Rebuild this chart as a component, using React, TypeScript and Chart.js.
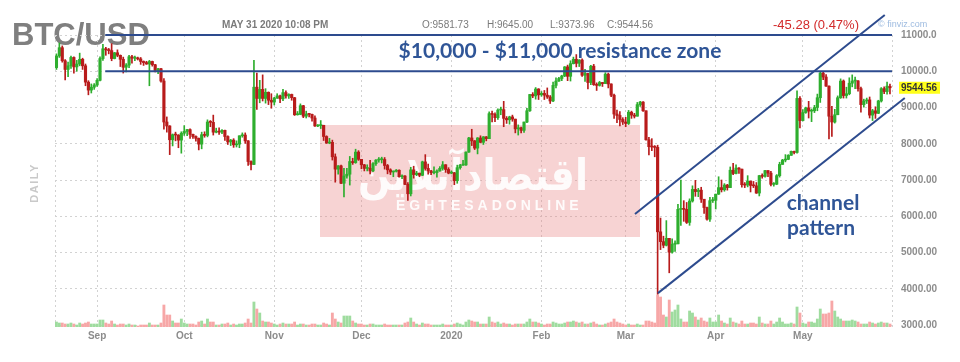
import { useEffect, useRef } from 'react';
import { Chart, registerables } from 'chart.js';
Chart.register(...registerables);

// Daily BTC/USD candles, Aug 18 2019 .. May 31 2020  [open, high, low, close]
const ohlcAug19 = [
  [10100,10480,10050,10420],[10420,10780,10380,10650],[10650,10700,10250,10290],[10290,10320,9760,10050],
  [10050,10250,9850,10150],[10150,10420,10080,10380],[10380,10400,9950,10120],[10120,10300,10000,10200],
  [10200,10500,10150,10330],[10330,10360,10050,10150],[10150,10200,9600,9700],[9700,9740,9350,9480],
  [9480,9650,9400,9560],[9560,9660,9500,9620],
];
const ohlcSep19 = [
  [9620,9800,9580,9750],[9750,10400,9730,10350],[10350,10740,10300,10620],[10620,10660,10440,10590],
  [10590,10630,10480,10570],[10570,10760,10290,10350],[10350,10520,10340,10510],[10510,10590,10400,10440],
  [10440,10450,10130,10330],[10330,10390,9950,10110],[10110,10210,9980,10170],[10170,10440,10100,10400],
  [10400,10440,10220,10360],[10360,10420,10290,10365],[10365,10390,10310,10340],[10340,10380,10190,10270],
  [10270,10285,10160,10240],[10240,10275,10190,10200],[10200,10300,9600,10270],[10270,10280,10140,10180],
  [10180,10190,9980,10020],[10020,10080,9930,10070],[10070,10080,9700,9730],[9730,9800,8400,8600],
  [8600,8740,8320,8490],[8490,8500,7700,8110],[8110,8270,7940,8250],[8250,8320,8080,8240],
  [8240,8250,7890,8100],[8100,8330,7740,8290],
];
const ohlcOct19 = [
  [8290,8500,8230,8340],[8340,8400,8220,8390],[8390,8410,8150,8260],[8260,8270,8150,8200],
  [8200,8220,8070,8150],[8150,8160,7830,7990],[7990,8320,7860,8250],[8250,8330,8180,8230],
  [8230,8660,8190,8600],[8600,8640,8470,8590],[8590,8790,8240,8320],[8320,8430,8300,8340],
  [8340,8440,8260,8320],[8320,8390,8280,8370],[8370,8380,8090,8200],[8200,8220,7980,8050],
  [8050,8120,7950,8100],[8100,8140,7900,7970],[7970,8080,7910,7990],[7990,8220,7890,8220],
  [8220,8300,8180,8240],[8240,8300,8010,8080],[8080,8090,7400,7510],[7510,7530,7280,7430],
  [7430,10300,7420,9560],[9560,9950,8950,9250],[9250,9750,9130,9500],[9500,9900,9180,9250],
  [9250,9520,9120,9420],[9420,9430,9080,9200],[9200,9380,8980,9150],
];
const ohlcNov19 = [
  [9150,9280,9070,9260],[9260,9380,9250,9320],[9320,9340,9130,9240],[9240,9500,9190,9410],
  [9410,9460,9260,9320],[9320,9380,9250,9360],[9360,9370,9200,9270],[9270,9280,8780,8800],
  [8800,8890,8790,8810],[8810,9100,8800,9050],[9050,9060,8720,8760],[8760,8900,8710,8820],
  [8820,8840,8740,8810],[8810,8820,8620,8710],[8710,8770,8480,8490],[8490,8530,8470,8500],
  [8500,8640,8420,8510],[8510,8510,8090,8200],[8200,8220,8010,8020],[8020,8150,8000,8040],
  [8040,8100,7550,7640],[7640,7720,6940,7300],[7300,7400,7160,7390],[7390,7410,6900,6910],
  [6910,7320,6530,7110],[7110,7320,7050,7160],[7160,7650,6860,7510],[7510,7600,7430,7480],
  [7480,7850,7460,7770],[7770,7810,7540,7570],
];
const ohlcDec19 = [
  [7570,7570,7310,7420],[7420,7430,7250,7320],[7320,7420,7250,7325],[7325,7540,7170,7250],
  [7250,7480,7230,7450],[7450,7560,7400,7550],[7550,7620,7490,7560],[7560,7630,7470,7565],
  [7565,7620,7300,7400],[7400,7430,7170,7280],[7280,7310,7150,7220],[7220,7250,7090,7240],
  [7240,7290,7220,7270],[7270,7280,7080,7090],[7090,7140,7040,7110],[7110,7120,6870,6880],
  [6880,6930,6440,6620],[6620,7350,6560,7280],[7280,7380,7050,7150],[7150,7240,7120,7190],
  [7190,7190,7090,7130],[7130,7520,7120,7500],[7500,7700,7270,7320],[7320,7440,7160,7250],
  [7250,7270,7150,7200],[7200,7360,7170,7205],[7205,7280,7080,7250],[7250,7370,7240,7320],
  [7320,7510,7270,7420],[7420,7425,7210,7290],[7290,7340,7170,7190],
];
const ohlcJan20 = [
  [7190,7250,7170,7200],[7200,7210,6870,6980],[6980,7410,6910,7340],[7340,7430,7300,7410],
  [7410,7540,7400,7415],[7415,7780,7400,7770],[7770,8180,7760,8160],[8160,8400,7950,8080],
  [8080,8090,7840,7880],[7880,8170,7720,8160],[8160,8220,8030,8040],[8040,8200,7980,8190],
  [8190,8200,8080,8140],[8140,8880,8140,8830],[8830,8900,8600,8810],[8810,8850,8610,8720],
  [8720,8960,8670,8930],[8930,9010,8800,8940],[8940,9170,8470,8700],[8700,8750,8560,8660],
  [8660,8760,8540,8740],[8740,8790,8620,8680],[8680,8680,8300,8410],[8410,8520,8240,8440],
  [8440,8460,8300,8370],[8370,8600,8310,8600],[8600,8980,8580,8910],[8910,9360,8890,9360],
  [9360,9410,9270,9320],[9320,9550,9230,9510],[9510,9520,9220,9350],
];
const ohlcFeb20 = [
  [9350,9440,9310,9390],[9390,9470,9220,9340],[9340,9540,9250,9290],[9290,9330,9110,9180],
  [9180,9700,9160,9610],[9610,9820,9540,9730],[9730,9830,9720,9800],[9800,9890,9740,9870],
  [9870,10130,9850,10120],[10120,10170,9740,9860],[9860,10290,9730,10210],[10210,10390,10200,10330],
  [10330,10460,10120,10220],[10220,10320,10130,10310],[10310,10340,9860,9890],[9890,10050,9720,9940],
  [9940,9940,9510,9690],[9690,10160,9630,10140],[10140,10190,9610,9630],[9630,9680,9470,9610],
  [9610,9720,9590,9690],[9690,9690,9580,9660],[9660,9960,9660,9920],[9920,9950,9540,9650],
  [9650,9650,9300,9340],[9340,9370,8700,8820],[8820,8930,8580,8780],[8780,8890,8490,8670],
  [8670,8720,8530,8600],
];
const ohlcMar20 = [
  [8600,8730,8470,8560],[8560,8920,8530,8870],[8870,8900,8700,8790],[8790,8840,8710,8760],
  [8760,9140,8760,9080],[9080,9170,9030,9150],[9150,9160,8890,8910],[8910,8910,8100,8110],
  [8110,8180,7690,7920],[7920,8140,7810,7910],[7910,7950,7640,7900],[7900,7960,3850,5570],
  [5570,5950,5080,5300],[5300,5450,5130,5200],[5200,5880,5180,5390],[5390,5390,4440,5010],
  [5010,5380,4980,5230],[5230,5320,5030,5240],[5240,6330,5240,6190],[6190,7000,5750,6200],
  [6200,6430,5860,6190],[6190,6380,5800,5830],[5830,6480,5750,6420],[6420,6840,6390,6740],
  [6740,6990,6550,6680],[6680,6770,6540,6720],[6720,6800,6380,6470],[6470,6470,6080,6240],
  [6240,6250,5890,5920],[5920,6520,5860,6430],[6430,6520,6380,6440],
];
const ohlcApr20 = [
  [6440,6610,6200,6610],[6610,7090,6600,6790],[6790,7000,6670,6730],[6730,6900,6690,6860],
  [6860,6880,6720,6790],[6790,7360,6790,7270],[7270,7460,7150,7180],[7180,7420,7170,7330],
  [7330,7340,7180,7300],[7300,7300,6800,6870],[6870,6930,6790,6860],[6860,7120,6810,6970],
  [6970,6970,6670,6850],[6850,6960,6790,6840],[6840,6930,6630,6640],[6640,7130,6560,7120],
  [7120,7170,7050,7100],[7100,7270,7080,7260],[7260,7260,7090,7190],[7190,7240,6840,6880],
  [6880,6930,6830,6885],[6885,7150,6870,7120],[7120,7490,7080,7430],[7430,7570,7430,7550],
  [7550,7700,7500,7570],[7570,7700,7560,7680],[7680,7800,7680,7790],[7790,7800,7720,7760],
  [7760,9460,7740,9250],[9250,9300,8440,8640],
];
const ohlcMay20 = [
  [8640,8940,8630,8860],[8860,9010,8840,8990],[8990,9170,8710,8900],[8900,8960,8610,8910],
  [8910,9060,8860,9000],[9000,9370,8910,9270],[9270,9990,9140,9950],[9950,10000,9770,9840],
  [9840,9910,9580,9590],[9590,9600,8130,8760],[8760,9030,8200,8600],[8600,8950,8570,8800],
  [8800,9320,8800,9270],[9270,9790,9250,9730],[9730,9760,9260,9330],[9330,9560,9260,9380],
  [9380,9820,9350,9670],[9670,9900,9570,9730],[9730,9840,9520,9735],[9735,9740,9450,9520],
  [9520,9560,8870,9080],[9080,9230,9010,9180],[9180,9260,9110,9210],[9210,9290,8710,8790],
  [8790,8950,8640,8910],[8910,9020,8700,8840],[8840,9200,8830,9180],[9180,9550,9150,9520],
  [9520,9570,9380,9440],[9440,9700,9370,9589.84],[9581.73,9645.0,9373.96,9544.56],
];

// Daily volume (thousand units)
const volAug19 = [5,4,4,3,3,4,3,2,4,3,4,5,3,3];
const volSep19 = [3,7,7,4,3,6,3,2,3,3,2,3,2,2,1,2,2,2,4,2,2,2,4,22,12,12,6,4,4,8];
const volOct19 = [4,3,3,3,2,5,6,3,8,5,5,2,2,3,3,4,2,3,2,3,3,4,8,4,25,18,14,6,5,5,4];
const volNov19 = [3,2,3,4,3,3,3,5,2,3,3,2,2,3,3,2,2,4,3,2,14,8,5,4,11,11,11,6,4,3];
const volDec19 = [3,2,2,3,3,2,2,2,3,2,2,2,2,2,2,4,5,9,5,3,2,4,3,3,2,2,2,2,3,2,2];
const volJan20 = [2,3,4,3,2,5,7,6,5,5,3,3,3,10,5,4,5,3,4,3,3,2,3,3,3,3,5,8,5,5,4];
const volFeb20 = [3,2,3,3,5,4,3,3,4,5,5,6,5,4,5,3,3,4,5,3,2,2,3,4,5,8,5,4,3];
const volMar20 = [2,3,2,2,3,2,2,6,6,5,4,32,30,12,10,27,15,17,22,8,5,5,16,14,10,7,9,6,5,9,5];
const volApr20 = [5,12,6,4,3,9,5,4,3,6,3,3,4,4,3,10,4,3,3,6,3,5,9,5,3,3,4,3,20,14];
const volMay20 = [4,3,5,5,4,8,18,13,13,14,26,16,10,8,6,6,6,7,6,5,3,3,3,5,4,3,4,5,4,4,3];

// x axis: day index (0 = Aug 18 2019) of month starts
const monthTickIdx = [14, 44, 75, 105, 136, 167, 196, 227, 257];
const monthTickLabels = ['Sep', 'Oct', 'Nov', 'Dec', '2020', 'Feb', 'Mar', 'Apr', 'May'];
const priceTicks = [3000, 4000, 5000, 6000, 7000, 8000, 9000, 10000, 11000];

// drawn annotations (data coordinates: [dayIndex, price])
const resistanceLevels = [11000, 10000];
const resistanceStartIdx = 16.8;
const channelUpper = [[199.2, 6060], [285.2, 11550]];
const channelLower = [[207.1, 3880], [292.1, 9260]];

const headerDate = 'MAY 31 2020 10:08 PM';

const GREEN = '#2eae2e';
const RED = '#b81b1b';
const VOL_UP = '#9fdc9f';
const VOL_DN = '#f7a7a7';
const NAVY = '#2d4b8e';
const TEXT_BLUE = '#2f5597';
const AX = '#8c8c8c';
const SANS = '"Liberation Sans", Arial, sans-serif';

export default function App() {
  const ref = useRef<HTMLCanvasElement>(null);

  useEffect(() => {
    const ohlc = [
      ...ohlcAug19, ...ohlcSep19, ...ohlcOct19, ...ohlcNov19, ...ohlcDec19,
      ...ohlcJan20, ...ohlcFeb20, ...ohlcMar20, ...ohlcApr20, ...ohlcMay20,
    ];
    const vol = [
      ...volAug19, ...volSep19, ...volOct19, ...volNov19, ...volDec19,
      ...volJan20, ...volFeb20, ...volMar20, ...volApr20, ...volMay20,
    ];
    const up = ohlc.map((d) => d[3] >= d[0]);
    const candleColors = up.map((u) => (u ? GREEN : RED));
    const last = ohlc[ohlc.length - 1];
    const prev = ohlc[ohlc.length - 2];
    const change = last[3] - prev[3];
    const pct = Math.abs(change / prev[3]) * 100;

    const decor = {
      id: 'decor',
      beforeDraw(chart: any) {
        const ctx = chart.ctx;
        ctx.save();
        ctx.fillStyle = '#7f7f7f';
        ctx.font = `bold 31px ${SANS}`;
        ctx.textBaseline = 'alphabetic';
        ctx.fillText('BTC/USD', 12, 45);
        ctx.restore();

        ctx.save();
        ctx.translate(38, 183);
        ctx.rotate(-Math.PI / 2);
        ctx.font = `bold 11px ${SANS}`;
        ctx.fillStyle = '#c9c9c9';
        ctx.textAlign = 'center';
        (ctx as any).letterSpacing = '1.5px';
        ctx.fillText('DAILY', 0, 0);
        ctx.restore();
      },
      beforeDatasetsDraw(chart: any) {
        const ctx = chart.ctx;
        ctx.save();
        ctx.fillStyle = 'rgba(230, 120, 120, 0.33)';
        ctx.fillRect(320, 125, 320, 112);
        ctx.fillStyle = 'rgba(255,255,255,0.9)';
        ctx.font = 'bold 44px "DejaVu Sans"';
        ctx.textBaseline = 'alphabetic';
        const fa = 'اقتصادآنلاین';
        const w = ctx.measureText(fa).width;
        ctx.save();
        ctx.translate(358, 190);
        ctx.scale(230 / w, 1);
        ctx.fillText(fa, 0, 0);
        ctx.restore();
        ctx.font = `bold 14px ${SANS}`;
        (ctx as any).letterSpacing = '4px';
        ctx.fillText('EGHTESADONLINE', 396, 210);
        ctx.restore();
      },
      afterDatasetsDraw(chart: any) {
        const ctx = chart.ctx;
        const xs = chart.scales.x;
        const ys = chart.scales.y;
        const area = chart.chartArea;
        ctx.save();
        ctx.strokeStyle = NAVY;
        ctx.lineWidth = 2;
        resistanceLevels.forEach((lv) => {
          const y = ys.getPixelForValue(lv);
          ctx.beginPath();
          ctx.moveTo(xs.getPixelForValue(resistanceStartIdx), y);
          ctx.lineTo(area.right, y);
          ctx.stroke();
        });
        [channelUpper, channelLower].forEach((ln) => {
          ctx.beginPath();
          ctx.moveTo(xs.getPixelForValue(ln[0][0]), ys.getPixelForValue(ln[0][1]));
          ctx.lineTo(xs.getPixelForValue(ln[1][0]), ys.getPixelForValue(ln[1][1]));
          ctx.stroke();
        });

        // annotation texts
        ctx.fillStyle = TEXT_BLUE;
        ctx.textBaseline = 'alphabetic';
        ctx.textAlign = 'center';
        ctx.font = 'bold 21px Lato';
        ctx.fillText('$10,000 - $11,000 resistance zone', 560, 58);
        ctx.font = 'bold 21px Lato';
        ctx.fillText('channel', 823, 210);
        ctx.fillText('pattern', 821, 235);

        // last price label
        const py = ys.getPixelForValue(last[3]);
        ctx.fillStyle = '#ffff1a';
        ctx.fillRect(area.right + 7, py - 6, 41, 12);
        ctx.fillStyle = '#333';
        ctx.textAlign = 'left';
        ctx.textBaseline = 'middle';
        ctx.font = `bold 10px ${SANS}`;
        ctx.fillText(last[3].toFixed(2), area.right + 9, py + 0.5);

        // header
        ctx.textBaseline = 'alphabetic';
        ctx.fillStyle = '#7a7a7a';
        ctx.font = `bold 10px ${SANS}`;
        ctx.fillText(headerDate, 222, 28);
        ctx.font = `10px ${SANS}`;
        ctx.fillText('O:' + last[0].toFixed(2), 422, 28);
        ctx.fillText('H:' + last[1].toFixed(2), 487, 28);
        ctx.fillText('L:' + last[2].toFixed(2), 550, 28);
        ctx.fillText('C:' + last[3].toFixed(2), 607, 28);
        ctx.fillStyle = '#d22a2a';
        ctx.font = `13px ${SANS}`;
        ctx.fillText(`${change.toFixed(2)} (${pct.toFixed(2)}%)`, 773, 29);
        ctx.fillStyle = '#9dbbe0';
        ctx.font = `9px ${SANS}`;
        ctx.fillText('© finviz.com', 878, 27);
        ctx.restore();
      },
    };

    const gridColor = '#d2d2d2';
    const chart = new Chart(ref.current as HTMLCanvasElement, {
      type: 'bar',
      data: {
        datasets: [
          {
            label: 'Volume',
            data: vol.map((v, i) => ({ x: i, y: v })),
            yAxisID: 'yv',
            backgroundColor: up.map((u) => (u ? VOL_UP : VOL_DN)),
            barThickness: 2.2,
            grouped: false,
            order: 3,
          } as any,
          {
            label: 'Wick',
            data: ohlc.map((d, i) => ({ x: i, y: [d[2], d[1]] })),
            yAxisID: 'y',
            backgroundColor: candleColors,
            barThickness: 1,
            grouped: false,
            order: 2,
          } as any,
          {
            label: 'Body',
            data: ohlc.map((d, i) => ({ x: i, y: [d[0], d[3]] })),
            yAxisID: 'y',
            backgroundColor: candleColors,
            barThickness: 2.5,
            minBarLength: 1,
            grouped: false,
            order: 1,
          } as any,
        ],
      },
      options: {
        responsive: false,
        animation: false,
        devicePixelRatio: 1,
        layout: { padding: { left: 55, top: 35, right: 0, bottom: 0 } },
        plugins: { legend: { display: false }, tooltip: { enabled: false } },
        scales: {
          x: {
            type: 'linear',
            min: -0.5,
            max: 287.7,
            offset: false,
            afterBuildTicks: (s: any) => {
              s.ticks = [-0.5, ...monthTickIdx, 287.7].map((v) => ({ value: v }));
            },
            afterFit: (s: any) => {
              s.height = 35;
            },
            ticks: {
              autoSkip: false,
              maxRotation: 0,
              padding: 3,
              color: AX,
              font: { family: SANS, size: 10, weight: 'bold' },
              callback: (v: any) => {
                const k = monthTickIdx.indexOf(v);
                return k >= 0 ? monthTickLabels[k] : '';
              },
            },
            grid: { color: gridColor, drawTicks: false, offset: false, borderDash: [2, 3] } as any,
            border: { display: false, dash: [2, 3] },
          },
          y: {
            type: 'linear',
            position: 'right',
            min: 2945,
            max: 11000,
            afterBuildTicks: (s: any) => {
              s.ticks = priceTicks.map((v) => ({ value: v }));
            },
            afterFit: (s: any) => {
              s.width = 68;
            },
            ticks: {
              padding: 9,
              color: AX,
              font: { family: SANS, size: 10, weight: 'bold' },
              callback: (v: any) => (v >= 10000 ? Number(v).toFixed(1) : Number(v).toFixed(2)),
            },
            grid: { color: gridColor, drawTicks: false, borderDash: [2, 3] } as any,
            border: { display: false, dash: [2, 3] },
          },
          yv: {
            type: 'linear',
            display: false,
            min: 0,
            max: 292,
          },
        },
      } as any,
      plugins: [decor],
    });
    return () => chart.destroy();
  }, []);

  return (
    <div style={{ position: 'fixed', left: 0, top: 0, width: 960, height: 362, background: '#fff' }}>
      <canvas ref={ref} width={960} height={362} style={{ width: 960, height: 362, display: 'block' }} />
    </div>
  );
}
